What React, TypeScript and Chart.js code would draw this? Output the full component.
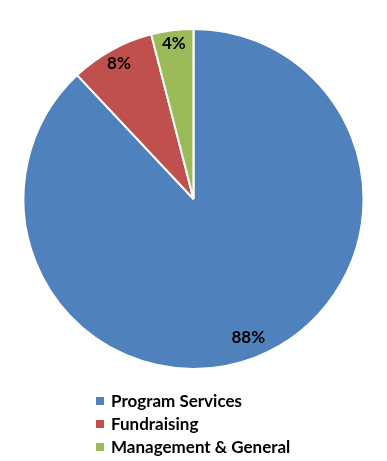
import React, { useEffect, useRef } from "react";
import { Chart, registerables } from "chart.js";

Chart.register(...registerables);

const categories = ["Program Services", "Fundraising", "Management & General"];
const values = [88, 8, 4];
const valueLabels = ["88%", "8%", "4%"];
const colors = ["#4F81BD", "#C0504D", "#9BBB59"];
const labelRadius = [0.875, 0.91, 0.92];

const labelPlugin = {
  id: "sliceLabels",
  afterDatasetsDraw(chart: any) {
    const ctx = chart.ctx;
    const meta = chart.getDatasetMeta(0);
    ctx.save();
    ctx.font = "bold 17px Lato";
    ctx.fillStyle = "#000";
    ctx.textAlign = "center";
    ctx.textBaseline = "middle";
    meta.data.forEach((arc: any, i: number) => {
      const mid = (arc.startAngle + arc.endAngle) / 2;
      const r = arc.outerRadius * labelRadius[i];
      const x = arc.x + Math.cos(mid) * r;
      const y = arc.y + Math.sin(mid) * r;
      ctx.fillText(valueLabels[i], x, y);
    });
    ctx.restore();
  },
};

export default function App() {
  const ref = useRef<HTMLCanvasElement>(null);
  useEffect(() => {
    const chart = new Chart(ref.current!, {
      type: "pie",
      data: {
        labels: categories,
        datasets: [
          {
            data: values,
            backgroundColor: colors,
            borderColor: "#ffffff",
            borderWidth: 2,
          },
        ],
      },
      options: {
        animation: false,
        responsive: false,
        layout: { padding: { top: 28, bottom: 30, left: 0, right: 0 } },
        plugins: {
          legend: { display: false },
          tooltip: { enabled: false },
        },
      },
      plugins: [labelPlugin],
    });
    return () => chart.destroy();
  }, []);

  return (
    <div style={{ position: "fixed", left: 0, top: 0, width: 387, height: 461, background: "#fff" }}>
      <canvas ref={ref} width={387} height={400} style={{ position: "absolute", left: 0, top: 0 }} />
      <div
        style={{
          position: "absolute",
          left: 96,
          top: 389,
          fontFamily: "Lato",
          fontWeight: "bold",
          fontSize: 17,
          lineHeight: "23px",
          color: "#000",
        }}
      >
        {categories.map((c, i) => (
          <div key={c} style={{ display: "flex", alignItems: "center", whiteSpace: "nowrap" }}>
            <span
              style={{ display: "inline-block", width: 8, height: 8, background: colors[i], marginRight: 7 }}
            />
            <span>{c}</span>
          </div>
        ))}
      </div>
    </div>
  );
}
